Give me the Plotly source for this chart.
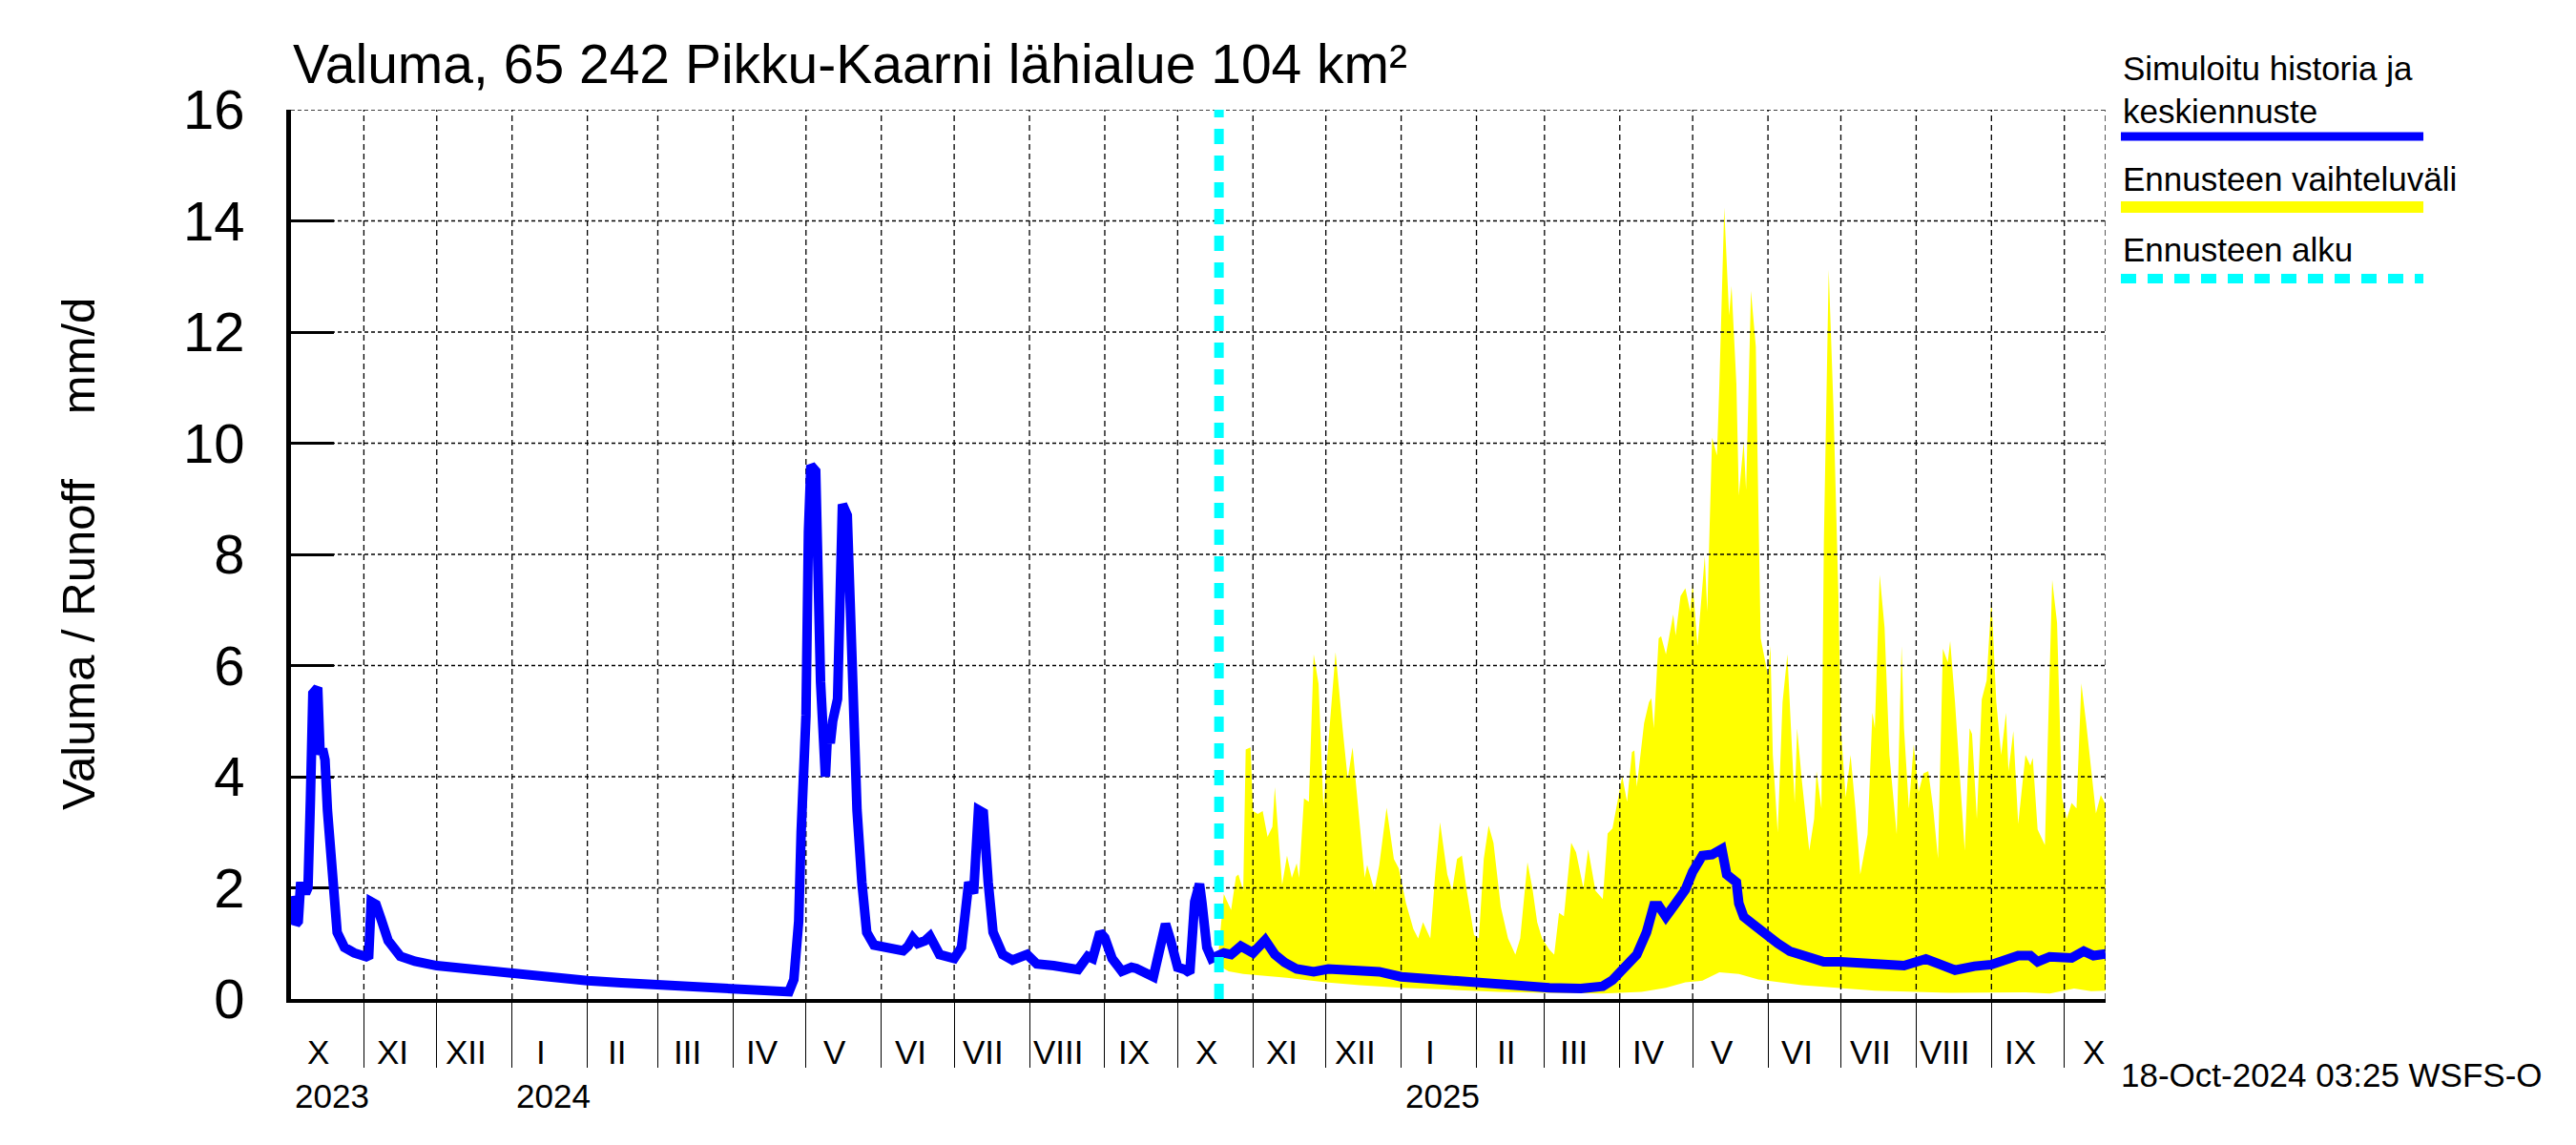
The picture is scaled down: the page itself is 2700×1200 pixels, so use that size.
import plotly.graph_objects as go
import pandas as pd

# ---------------- data ----------------
sim_dates = [
    "2023-10-02", "2023-10-04", "2023-10-05", "2023-10-06", "2023-10-08", "2023-10-09",
    "2023-10-10", "2023-10-11", "2023-10-13", "2023-10-14", "2023-10-15", "2023-10-16",
    "2023-10-17", "2023-10-19", "2023-10-21", "2023-10-24", "2023-10-28", "2023-11-02",
    "2023-11-03", "2023-11-04", "2023-11-06", "2023-11-08", "2023-11-11", "2023-11-16",
    "2023-11-22", "2023-12-01", "2023-12-15", "2024-01-01", "2024-01-15", "2024-02-01",
    "2024-02-15", "2024-03-01", "2024-03-15", "2024-04-01", "2024-04-15", "2024-04-24",
    "2024-04-26", "2024-04-28", "2024-04-29", "2024-05-01", "2024-05-02", "2024-05-03",
    "2024-05-05", "2024-05-06", "2024-05-07", "2024-05-09", "2024-05-10", "2024-05-11",
    "2024-05-12", "2024-05-14", "2024-05-15", "2024-05-16", "2024-05-18", "2024-05-19",
    "2024-05-20", "2024-05-22", "2024-05-24", "2024-05-26", "2024-05-29", "2024-06-05",
    "2024-06-10", "2024-06-12", "2024-06-14", "2024-06-16", "2024-06-19", "2024-06-21",
    "2024-06-25", "2024-07-01", "2024-07-04", "2024-07-07", "2024-07-09", "2024-07-11",
    "2024-07-13", "2024-07-15", "2024-07-17", "2024-07-21", "2024-07-25", "2024-07-31",
    "2024-08-04", "2024-08-11", "2024-08-21", "2024-08-25", "2024-08-27", "2024-08-30",
    "2024-09-01", "2024-09-04", "2024-09-08", "2024-09-12", "2024-09-14", "2024-09-21",
    "2024-09-24", "2024-09-26", "2024-09-28", "2024-10-01", "2024-10-04", "2024-10-06",
    "2024-10-08", "2024-10-10", "2024-10-11", "2024-10-13", "2024-10-15", "2024-10-18",
    "2024-10-20", "2024-10-23", "2024-10-27", "2024-11-01", "2024-11-04", "2024-11-06",
    "2024-11-10", "2024-11-14", "2024-11-19", "2024-11-26", "2024-12-02", "2024-12-09",
    "2024-12-15", "2024-12-23", "2025-01-01", "2025-01-10", "2025-01-24", "2025-02-06",
    "2025-02-19", "2025-03-03", "2025-03-16", "2025-03-25", "2025-03-29", "2025-04-03",
    "2025-04-08", "2025-04-12", "2025-04-15", "2025-04-17", "2025-04-20", "2025-04-24",
    "2025-04-28", "2025-05-01", "2025-05-05", "2025-05-09", "2025-05-13", "2025-05-15",
    "2025-05-19", "2025-05-20", "2025-05-22", "2025-05-26", "2025-05-31", "2025-06-05",
    "2025-06-10", "2025-06-18", "2025-06-24", "2025-07-01", "2025-07-15", "2025-07-27",
    "2025-08-05", "2025-08-10", "2025-08-17", "2025-08-25", "2025-09-01", "2025-09-12",
    "2025-09-17", "2025-09-20", "2025-09-25", "2025-10-04", "2025-10-09", "2025-10-13",
    "2025-10-18",
]
sim_values = [
    1.85, 1.35, 1.4, 2.1, 1.9, 2.0,
    3.6, 5.5, 5.6, 4.4, 4.5, 4.3,
    3.4, 2.1, 1.2, 0.93, 0.83, 0.76,
    0.78, 1.75, 1.7, 1.45, 1.05, 0.77,
    0.68, 0.6, 0.53, 0.47, 0.4, 0.33,
    0.29, 0.25, 0.22, 0.19, 0.15, 0.13,
    0.35, 1.4, 3.0, 5.1, 8.4, 9.6,
    9.5, 7.7, 5.7, 4.0, 4.9, 4.6,
    5.0, 5.4, 7.4, 8.9, 8.7, 7.4,
    5.4, 3.4, 2.1, 1.2, 0.97, 0.93,
    0.87, 0.95, 1.1, 1.0, 1.05, 1.13,
    0.8, 0.73, 0.93, 2.1, 1.9, 3.4,
    3.35, 2.1, 1.2, 0.8, 0.7, 0.8,
    0.63, 0.6, 0.53, 0.77, 0.73, 1.2,
    1.1, 0.73, 0.5, 0.57, 0.55, 0.4,
    1.07, 1.35, 1.07, 0.57, 0.53, 0.47,
    1.75, 2.07, 1.73, 0.93, 0.73, 0.8,
    0.83, 0.8, 0.95, 0.83, 0.95, 1.06,
    0.8, 0.66, 0.54, 0.49, 0.54, 0.51,
    0.49, 0.49, 0.4, 0.37, 0.33, 0.28,
    0.23, 0.2, 0.19, 0.23, 0.34, 0.57,
    0.8, 1.2, 1.68, 1.68, 1.48, 1.72,
    1.97, 2.29, 2.58, 2.6, 2.7, 2.24,
    2.1, 1.72, 1.48, 1.34, 1.15, 1.0,
    0.86, 0.76, 0.67, 0.67, 0.62, 0.6,
    0.72, 0.62, 0.52, 0.59, 0.62, 0.78,
    0.78, 0.67, 0.76, 0.74, 0.86, 0.78,
    0.81,
]

upper_dates = [
    "2024-10-18", "2024-10-20", "2024-10-23", "2024-10-25", "2024-10-26", "2024-10-28",
    "2024-10-29", "2024-10-31", "2024-11-01", "2024-11-03", "2024-11-05", "2024-11-07",
    "2024-11-09", "2024-11-10", "2024-11-13", "2024-11-15", "2024-11-17", "2024-11-19",
    "2024-11-20", "2024-11-22", "2024-11-24", "2024-11-26", "2024-11-28", "2024-11-30",
    "2024-12-02", "2024-12-05", "2024-12-08", "2024-12-10", "2024-12-12", "2024-12-15",
    "2024-12-17", "2024-12-18", "2024-12-21", "2024-12-23", "2024-12-26", "2024-12-29",
    "2024-12-31", "2025-01-03", "2025-01-06", "2025-01-08", "2025-01-10", "2025-01-13",
    "2025-01-15", "2025-01-17", "2025-01-20", "2025-01-22", "2025-01-24", "2025-01-26",
    "2025-01-28", "2025-01-31", "2025-02-02", "2025-02-04", "2025-02-06", "2025-02-08",
    "2025-02-11", "2025-02-14", "2025-02-17", "2025-02-19", "2025-02-22", "2025-02-24",
    "2025-02-26", "2025-02-28", "2025-03-03", "2025-03-05", "2025-03-07", "2025-03-09",
    "2025-03-12", "2025-03-14", "2025-03-17", "2025-03-19", "2025-03-22", "2025-03-25",
    "2025-03-27", "2025-03-29", "2025-04-01", "2025-04-02", "2025-04-04", "2025-04-06",
    "2025-04-07", "2025-04-08", "2025-04-11", "2025-04-13", "2025-04-14", "2025-04-15",
    "2025-04-17", "2025-04-18", "2025-04-20", "2025-04-23", "2025-04-24", "2025-04-26",
    "2025-04-28", "2025-04-30", "2025-05-01", "2025-05-03", "2025-05-06", "2025-05-07",
    "2025-05-09", "2025-05-11", "2025-05-12", "2025-05-14", "2025-05-16", "2025-05-17",
    "2025-05-19", "2025-05-20", "2025-05-22", "2025-05-23", "2025-05-25", "2025-05-27",
    "2025-05-28", "2025-05-29", "2025-06-01", "2025-06-02", "2025-06-03", "2025-06-05",
    "2025-06-07", "2025-06-09", "2025-06-11", "2025-06-12", "2025-06-13", "2025-06-15",
    "2025-06-18", "2025-06-20", "2025-06-21", "2025-06-23", "2025-06-24", "2025-06-26",
    "2025-06-28", "2025-06-30", "2025-07-01", "2025-07-03", "2025-07-05", "2025-07-07",
    "2025-07-09", "2025-07-12", "2025-07-14", "2025-07-15", "2025-07-17", "2025-07-19",
    "2025-07-21", "2025-07-24", "2025-07-26", "2025-07-27", "2025-07-29", "2025-07-31",
    "2025-08-02", "2025-08-04", "2025-08-06", "2025-08-08", "2025-08-10", "2025-08-12",
    "2025-08-14", "2025-08-15", "2025-08-17", "2025-08-19", "2025-08-21", "2025-08-23",
    "2025-08-24", "2025-08-26", "2025-08-28", "2025-08-30", "2025-09-01", "2025-09-03",
    "2025-09-05", "2025-09-07", "2025-09-08", "2025-09-10", "2025-09-12", "2025-09-15",
    "2025-09-17", "2025-09-18", "2025-09-20", "2025-09-23", "2025-09-26", "2025-09-28",
    "2025-09-30", "2025-10-02", "2025-10-04", "2025-10-06", "2025-10-08", "2025-10-10",
    "2025-10-12", "2025-10-14", "2025-10-16", "2025-10-18",
]
upper_values = [
    0.93, 1.89, 1.6, 2.2, 2.24, 1.95,
    4.49, 4.53, 3.38, 3.33, 3.38, 2.92,
    3.1, 3.81, 2.05, 2.58, 2.18, 2.44,
    2.18, 3.61, 3.55, 6.2, 5.67, 3.44,
    4.59, 6.24, 4.82, 3.96, 4.53, 3.1,
    2.18, 2.41, 1.95, 2.41, 3.44, 2.52,
    2.35, 1.72, 1.26, 1.09, 1.38, 1.09,
    2.24, 3.18, 2.24, 1.95, 2.52, 2.58,
    1.95, 1.15, 1.09, 2.52, 3.12, 2.81,
    1.66, 1.09, 0.8, 1.09, 2.46, 2.0,
    1.38, 1.09, 0.89, 0.8, 1.55, 1.49,
    2.81, 2.64, 2.0, 2.69, 1.95, 1.8,
    2.98, 3.07, 3.8, 4.01, 3.55, 4.44,
    4.47, 3.82, 4.96, 5.34, 5.41, 4.87,
    6.49, 6.53, 6.2, 6.92, 6.54, 7.25,
    7.39, 6.97, 7.49, 6.35, 7.97, 6.97,
    10.1, 9.78, 11.07, 14.24, 12.3, 12.83,
    11.07, 9.06, 10.02, 9.16, 12.74, 11.74,
    8.97, 6.49, 5.82, 6.35, 4.39, 3.0,
    5.34, 6.2, 4.39, 3.53, 4.87, 3.91,
    2.67, 3.24, 4.1, 3.43, 8.21, 13.12,
    10.59, 7.25, 4.87, 3.63, 4.39, 3.43,
    2.24, 2.96, 5.15, 4.87, 7.63, 6.68,
    4.39, 2.96, 6.35, 4.87, 3.43, 4.58,
    3.72, 4.06, 4.1, 3.43, 2.53, 6.3,
    6.06, 6.44, 5.34, 3.91, 2.67, 4.87,
    4.77, 3.24, 5.39, 5.73, 7.2, 5.34,
    4.39, 5.15, 4.1, 4.82, 3.15, 4.39,
    4.2, 4.34, 3.05, 2.77, 7.54, 6.77,
    3.63, 3.24, 3.53, 3.43, 5.68, 4.96,
    4.2, 3.34, 3.67, 3.5,
]

lower_dates = [
    "2024-10-18", "2024-10-22", "2024-10-28", "2024-11-05", "2024-11-15", "2024-12-01",
    "2024-12-15", "2025-01-01", "2025-01-20", "2025-02-10", "2025-03-01", "2025-03-25",
    "2025-04-10", "2025-04-20", "2025-04-28", "2025-05-05", "2025-05-12", "2025-05-20",
    "2025-05-28", "2025-06-15", "2025-07-15", "2025-08-15", "2025-09-15", "2025-09-25",
    "2025-10-05", "2025-10-12", "2025-10-18",
]
lower_values = [
    0.6, 0.5, 0.45, 0.42, 0.38, 0.3,
    0.25, 0.2, 0.17, 0.13, 0.11, 0.1,
    0.13, 0.2, 0.3, 0.33, 0.48, 0.45,
    0.35, 0.25, 0.15, 0.11, 0.12, 0.1,
    0.19, 0.14, 0.15,
]

forecast_start = "2024-10-18"
x_start, x_end = "2023-10-02", "2025-10-18"
y_ticks = [0, 2, 4, 6, 8, 10, 12, 14, 16]
roman = ["I", "II", "III", "IV", "V", "VI", "VII", "VIII", "IX", "X", "XI", "XII"]
year_labels = [("2023", "2023-10-02"), ("2024", "2024-01-01"), ("2025", "2025-01-01")]

title_text = "Valuma, 65 242 Pikku-Kaarni lähialue 104 km²"
ytitle_text = "Valuma / Runoff\u00a0\u00a0\u00a0\u00a0 mm/d"
footer_text = "18-Oct-2024 03:25 WSFS-O"
legend_entries = ["Simuloitu historia ja", "keskiennuste", "Ennusteen vaihteluväli", "Ennusteen alku"]

FONT = "Liberation Sans, Arial, Helvetica, sans-serif"
BLUE, YELLOW, CYAN = "#0000FF", "#FFFF00", "#00FFFF"

months = pd.date_range("2023-10-01", "2025-10-01", freq="MS")
month_starts = [d.strftime("%Y-%m-%d") for d in months[1:]]
year_starts = ["2024-01-01", "2025-01-01"]

fig = go.Figure()

# forecast range band
fig.add_trace(go.Scatter(
    x=upper_dates + lower_dates[::-1],
    y=upper_values + lower_values[::-1],
    fill="toself", fillcolor=YELLOW, mode="lines", line=dict(width=0, color=YELLOW),
    hoverinfo="skip", showlegend=False,
))

# grid lines (drawn above the band, below the line)
gx, gy = [], []
for d in month_starts + [x_end]:
    gx += [d, d, None]
    gy += [0, 16, None]
fig.add_trace(go.Scatter(x=gx, y=gy, mode="lines",
                         line=dict(color="black", width=1.3, dash="6px,4px"),
                         hoverinfo="skip", showlegend=False))
hx, hy = [], []
for v in y_ticks[1:]:
    hx += [x_start, x_end, None]
    hy += [v, v, None]
fig.add_trace(go.Scatter(x=hx, y=hy, mode="lines",
                         line=dict(color="black", width=1.3, dash="4px,3px"),
                         hoverinfo="skip", showlegend=False))

# simulated history + median forecast
fig.add_trace(go.Scatter(x=sim_dates, y=sim_values, mode="lines",
                         line=dict(color=BLUE, width=10), hoverinfo="skip", showlegend=False))

# forecast start line
fig.add_shape(type="line", xref="x", yref="paper", x0=forecast_start, x1=forecast_start,
              y0=0, y1=1, line=dict(color=CYAN, width=10, dash="16px,12px"), layer="above")

annotations = []
# title
annotations.append(dict(text=title_text, xref="paper", yref="paper", x=0.0, y=1.0515,
                        xanchor="left", yanchor="middle", showarrow=False,
                        font=dict(family=FONT, size=57, color="black")))
# y-axis title
annotations.append(dict(text=ytitle_text, xref="paper", yref="paper", x=-0.1172, y=0.5,
                        xanchor="center", yanchor="middle", textangle=-90, showarrow=False,
                        font=dict(family=FONT, size=49, color="black")))
# month labels
for d in months:
    lab_date = (d + pd.Timedelta(days=12)).strftime("%Y-%m-%d")
    annotations.append(dict(text=roman[d.month - 1], xref="x", yref="paper", x=lab_date,
                            y=-0.060, xanchor="center", yanchor="middle", showarrow=False,
                            font=dict(family=FONT, size=35, color="black")))
# year labels
for txt, d in year_labels:
    annotations.append(dict(text=txt, xref="x", yref="paper", x=d, y=-0.109,
                            xanchor="left", yanchor="middle", xshift=2, showarrow=False,
                            font=dict(family=FONT, size=35, color="black")))
# footer
annotations.append(dict(text=footer_text, xref="paper", yref="paper", x=1.0074, y=-0.0858,
                        xanchor="left", yanchor="middle", showarrow=False,
                        font=dict(family=FONT, size=35, color="black")))
# legend texts
for txt, yy in zip(legend_entries, [1.0472, 0.9979, 0.9217, 0.8423]):
    annotations.append(dict(text=txt, xref="paper", yref="paper", x=1.0084, y=yy,
                            xanchor="left", yanchor="middle", showarrow=False,
                            font=dict(family=FONT, size=35, color="black")))

# legend symbols
fig.add_shape(type="line", xref="paper", yref="paper", x0=1.0084, x1=1.1751, y0=0.9700, y1=0.9700,
              line=dict(color=BLUE, width=9))
fig.add_shape(type="line", xref="paper", yref="paper", x0=1.0084, x1=1.1751, y0=0.8906, y1=0.8906,
              line=dict(color=YELLOW, width=12))
fig.add_shape(type="line", xref="paper", yref="paper", x0=1.0084, x1=1.1751, y0=0.8100, y1=0.8100,
              line=dict(color=CYAN, width=10, dash="16px,12px"))

fig.update_layout(
    width=2700, height=1200,
    margin=dict(l=297, r=501, t=107, b=161, pad=0),
    paper_bgcolor="white", plot_bgcolor="white",
    annotations=annotations,
    showlegend=False,
    xaxis=dict(
        type="date", range=[x_start, x_end], showgrid=False, zeroline=False,
        showline=True, linecolor="black", linewidth=4,
        tickmode="array", tickvals=year_starts, ticktext=["", ""],
        ticks="outside", ticklen=68, tickwidth=3.5, tickcolor="black",
        minor=dict(tickmode="array", tickvals=month_starts, ticks="outside", ticklen=68,
                   tickwidth=1, tickcolor="black", showgrid=False),
        layer="above traces",
    ),
    yaxis=dict(
        range=[0, 16], tickmode="array", tickvals=y_ticks, ticktext=[str(v) for v in y_ticks],
        showgrid=False, zeroline=False, showline=True, linecolor="black", linewidth=5,
        ticks="inside", ticklen=45, tickwidth=3, tickcolor="black",
        tickfont=dict(family=FONT, size=58, color="black"), ticklabelstandoff=32,
        layer="below traces",
    ),
)

fig.write_html("out.html")
